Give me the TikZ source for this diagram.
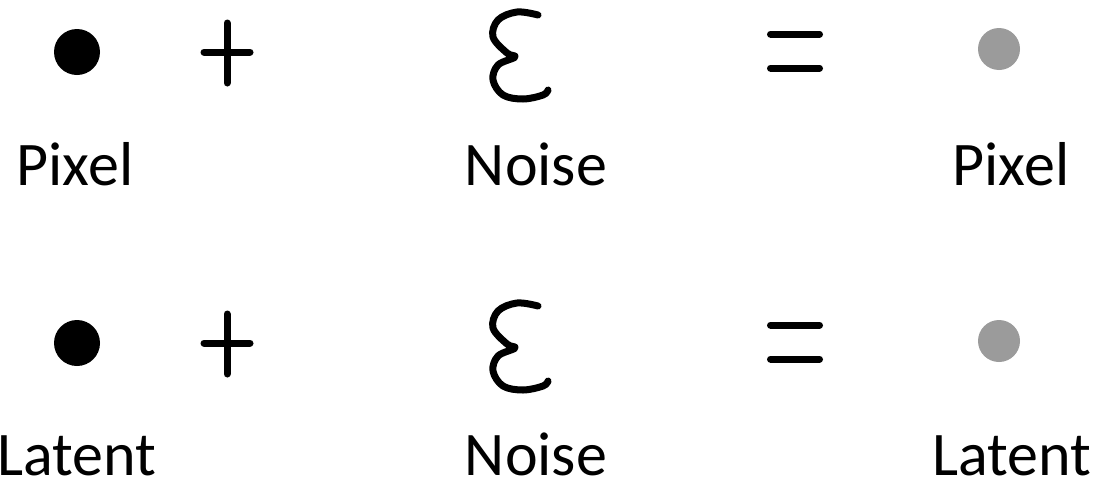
\documentclass[tikz,border=0pt]{standalone}
\usepackage{fontspec}
\setmainfont{Carlito}
\usetikzlibrary{positioning}
\definecolor{dotgray}{RGB}{155,155,155}

\tikzset{
  stroke/.style={line width=7pt, line cap=round, line join=round},
  inkdot/.style={circle, fill=black, minimum size=46pt, inner sep=0pt},
  fadedot/.style={circle, fill=dotgray, minimum size=42pt, inner sep=0pt},
  lbl/.style={anchor=base, inner sep=0pt, font=\fontsize{62}{74}\selectfont},
  plussign/.pic={\draw[stroke] (0,-29) -- (0,31) (-23,0) -- (23,0);},
  equalsign/.pic={\draw[stroke] (-24.5,-17) -- (24.5,-17) (-24.5,17) -- (24.5,17);},
  epsilon/.pic={\draw[stroke] plot[smooth, tension=0.6] coordinates {
      (18,-41) (-3,-44) (-22,-36) (-27,-19) (-13,-3) (-5,1)
      (-22,9) (-27,24) (-17,39) (3,43) (23,39) (28,34)};}
}

\begin{document}
\begin{tikzpicture}[x=1pt, y=-1pt]
  \useasboundingbox (0,0) rectangle (1102,482);

  % pixel space
  \node[inkdot] (px) at (77,52) {};
  \pic (plus1) at (227,52) {plussign};
  \pic (eps1) at (520,56) {epsilon};
  \pic (eq1) at (795,51) {equalsign};
  \node[fadedot] (pxn) at (999,49) {};
  \node[lbl] (pxlbl) at (75,185) {Pixel};
  \node[lbl] (nslbl1) at (536,185) {Noise};
  \node[lbl] (pxnlbl) at (1011,185) {Pixel};

  % latent space
  \node[inkdot] (lt) at (77,343) {};
  \pic (plus2) at (227,343) {plussign};
  \pic (eps2) at (520,347) {epsilon};
  \pic (eq2) at (795,342) {equalsign};
  \node[fadedot] (ltn) at (999,341) {};
  \node[lbl] (ltlbl) at (77,475) {Latent};
  \node[lbl] (nslbl2) at (536,475) {Noise};
  \node[lbl] (ltnlbl) at (1012,475) {Latent};
\end{tikzpicture}
\end{document}
